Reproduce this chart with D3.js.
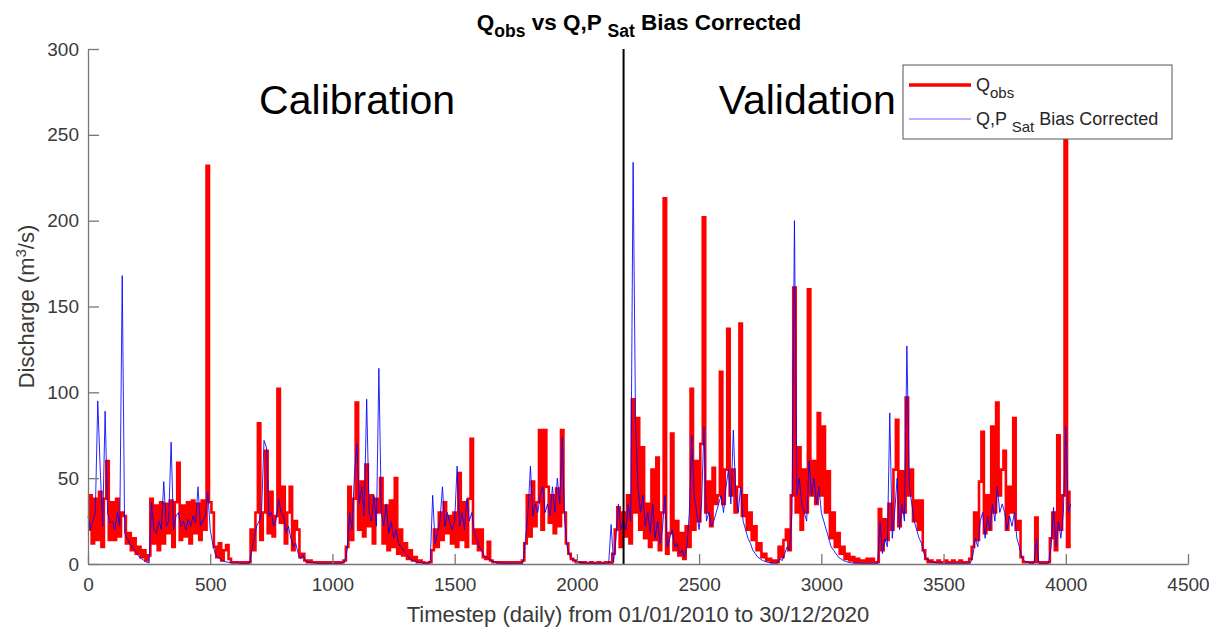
<!DOCTYPE html>
<html>
<head>
<meta charset="utf-8">
<script src="https://cdn.jsdelivr.net/npm/d3@7"></script>
<style>
  body { margin: 0; background: #fff; }
  text { font-family: "Liberation Sans", Arial, Helvetica, sans-serif; }
</style>
</head>
<body>
<div id="chart"></div>
<script>
// daily series, every 10th timestep
const step = 10;
const obsQ = [
  20, 40, 12, 38, 14, 42, 10, 38, 60, 14,
  36, 14, 38, 16, 30, 28, 12, 18, 8, 15,
  6, 10, 4, 8, 2, 5, 38, 12, 34, 8,
  36, 12, 35, 18, 37, 10, 36, 59, 14, 34,
  16, 36, 12, 37, 18, 35, 14, 37, 20, 232,
  36, 30, 10, 4, 12, 2, 8, 11, 3, 1,
  1, 1, 1, 0.5, 1, 0.5, 1, 20, 8, 30,
  82, 14, 30, 66, 18, 42, 16, 28, 102, 24,
  45, 12, 30, 45, 8, 25, 20, 4, 6, 2,
  1, 2, 1, 1, 0.5, 1, 0.5, 1, 0.5, 1,
  0.5, 1, 1, 0.5, 1, 2, 10, 45, 14, 38,
  94, 20, 48, 16, 58, 22, 40, 12, 38, 30,
  50, 12, 34, 8, 37, 10, 50, 6, 20, 5,
  12, 3, 8, 2, 4, 1, 2, 1, 0.5, 0.5,
  1, 8, 20, 10, 30, 14, 36, 18, 28, 12,
  30, 10, 53, 14, 36, 10, 38, 73, 12, 20,
  8, 20, 4, 3, 13, 2, 1, 1, 0.5, 1,
  0.5, 1, 0.5, 1, 0.5, 1, 1, 0.5, 2, 12,
  40, 16, 48, 22, 36, 78, 20, 78, 45, 24,
  40, 18, 44, 22, 78, 30, 12, 6, 3, 2,
  1, 1, 0.5, 1, 0.5, 0.5, 1, 0.5, 0.5, 1,
  0.5, 0.5, 1, 1, 0.5, 6, 20, 33, 10, 30,
  16, 40, 12, 96, 30, 85, 20, 68, 15, 35,
  10, 55, 14, 62, 8, 30, 213, 6, 18, 76,
  8, 25, 5, 18, 3, 22, 10, 102, 20, 60,
  25, 70, 202, 30, 48, 22, 56, 35, 40, 112,
  35, 55, 137, 40, 55, 30, 45, 140, 28, 40,
  20, 30, 14, 22, 8, 12, 4, 6, 2, 3,
  1, 2, 1, 10, 4, 14, 20, 8, 40, 161,
  30, 68, 20, 55, 30, 160, 40, 60, 35, 88,
  40, 80, 30, 54, 15, 30, 10, 18, 6, 10,
  3, 6, 2, 4, 1, 3, 1, 2, 1, 3,
  1, 3, 1, 1, 32, 8, 26, 14, 35, 20,
  55, 84, 22, 54, 30, 97, 40, 55, 25, 37,
  20, 37, 8, 3, 1, 2, 1, 1, 2, 1,
  1, 2, 1, 1, 2, 1, 1, 2, 1, 1,
  1, 3, 10, 30, 14, 48, 77, 18, 40, 20,
  80, 30, 94, 40, 55, 66, 20, 45, 30, 85,
  20, 25, 4, 1, 1, 1, 0.5, 1, 27, 1,
  0.5, 1, 0.5, 1, 15, 30, 8, 75, 20, 40,
  265, 10, 42
];
const simQ = [
  28, 20, 25, 30, 95, 55, 22, 89, 30, 24,
  25, 20, 30, 22, 168, 18, 15, 12, 10, 8,
  6, 4, 3, 2, 1, 0.5, 36, 20, 18, 25,
  20, 48, 22, 25, 71, 20, 28, 30, 22, 25,
  20, 26, 22, 28, 24, 45, 22, 25, 28, 42,
  20, 12, 6, 4, 3, 2, 1.5, 1, 1, 0.5,
  0.5, 0.5, 0.3, 0.3, 0.3, 0.3, 0.3, 8, 15, 22,
  25, 30, 72, 68, 28, 30, 22, 26, 38, 30,
  28, 18, 22, 15, 10, 12, 6, 3, 5, 2,
  1, 0.8, 0.6, 0.5, 0.4, 0.4, 0.3, 0.3, 0.3, 0.3,
  0.3, 0.3, 0.3, 0.3, 0.5, 1, 8, 30, 20, 52,
  70, 35, 45, 28, 96, 30, 25, 40, 22, 114,
  30, 22, 35, 18, 25, 15, 20, 12, 10, 8,
  6, 4, 3, 2, 1.5, 1, 0.8, 0.5, 0.4, 0.3,
  1, 40, 12, 18, 25, 45, 22, 30, 24, 20,
  25, 57, 22, 30, 20, 38, 25, 30, 18, 15,
  10, 8, 5, 4, 3, 2, 1.5, 1, 0.6, 0.5,
  0.4, 0.4, 0.3, 0.3, 0.3, 0.3, 0.3, 0.3, 1, 15,
  30, 57, 28, 35, 30, 40, 45, 30, 35, 28,
  45, 30, 50, 35, 74, 25, 10, 5, 3, 2,
  1.5, 1, 0.8, 0.6, 0.5, 0.4, 0.4, 0.3, 0.3, 0.3,
  0.3, 0.3, 0.3, 0.3, 23, 1, 15, 35, 20, 25,
  20, 35, 25, 234, 82, 45, 30, 40, 22, 30,
  18, 35, 15, 25, 12, 20, 40, 10, 15, 20,
  10, 12, 6, 8, 4, 10, 30, 75, 40, 30,
  20, 35, 80, 25, 30, 22, 25, 30, 35, 40,
  30, 45, 55, 35, 78, 40, 30, 45, 25, 20,
  15, 12, 8, 6, 4, 3, 2, 1.5, 1, 0.8,
  0.5, 0.5, 0.4, 3, 2, 6, 10, 8, 30, 200,
  40, 50, 35, 30, 25, 60, 40, 50, 35, 45,
  30, 25, 20, 15, 10, 8, 6, 4, 3, 2,
  1.5, 1, 0.8, 0.6, 0.5, 0.4, 0.4, 0.3, 0.3, 0.3,
  0.3, 0.3, 0.3, 0.3, 25, 6, 15, 10, 88, 15,
  30, 50, 20, 35, 25, 127, 45, 35, 25, 20,
  15, 12, 6, 3, 2, 1, 0.8, 0.6, 0.5, 0.4,
  0.4, 0.3, 0.3, 0.3, 0.3, 0.3, 0.3, 0.3, 0.3, 0.3,
  0.3, 0.5, 5, 15, 10, 25, 30, 15, 28, 20,
  35, 25, 45, 30, 35, 30, 20, 28, 22, 30,
  15, 10, 4, 2, 1, 0.8, 0.6, 0.5, 15, 0.5,
  0.4, 0.3, 0.3, 0.5, 10, 33, 10, 25, 15, 30,
  80, 30, 35
];
const xTicks = [0, 500, 1000, 1500, 2000, 2500, 3000, 3500, 4000, 4500];
const yTicks = [0, 50, 100, 150, 200, 250, 300];
const splitT = 2191;
const periods = [
  { label: "Calibration", t: 700, q: 262 },
  { label: "Validation", t: 2580, q: 262 }
];

const width = 1224;
const height = 635;
const margin = { top: 49, right: 36, bottom: 72, left: 88 };

const svg = d3.select("#chart")
  .append("svg")
  .attr("width", width)
  .attr("height", height);

const x = d3.scaleLinear()
  .domain([0, 4500])
  .range([margin.left, width - margin.right]);

const y = d3.scaleLinear()
  .domain([0, 300])
  .range([height - margin.bottom + 1, margin.top]);

const line = d3.line()
  .x((d, i) => x(i * step))
  .y(d => y(d));

svg.append("path")
  .datum(obsQ)
  .attr("fill", "none")
  .attr("stroke", "#ff0000")
  .attr("stroke-width", 2.6)
  .attr("d", line.curve(d3.curveStep)(obsQ));

svg.append("path")
  .datum(simQ)
  .attr("fill", "none")
  .attr("stroke", "#0000ff")
  .attr("stroke-opacity", 0.85)
  .attr("stroke-width", 1)
  .attr("d", line.curve(d3.curveLinear)(simQ));

svg.append("line")
  .attr("x1", x(splitT))
  .attr("x2", x(splitT))
  .attr("y1", y(0))
  .attr("y2", y(300))
  .attr("stroke", "#000")
  .attr("stroke-width", 2);

// axes, MATLAB style: ticks pointing inwards
const xAxis = svg.append("g")
  .attr("transform", `translate(0,${y(0)})`)
  .call(d3.axisBottom(x).tickValues(xTicks).tickFormat(d3.format("d"))
    .tickSizeInner(-10).tickSizeOuter(0).tickPadding(14));

const yAxis = svg.append("g")
  .attr("transform", `translate(${x(0)},0)`)
  .call(d3.axisLeft(y).tickValues(yTicks).tickFormat(d3.format("d"))
    .tickSizeInner(-11).tickSizeOuter(0).tickPadding(9));

[xAxis, yAxis].forEach(g => {
  g.select(".domain").attr("stroke", "#777").attr("stroke-width", 1.3);
  g.selectAll(".tick line").attr("stroke", "#777").attr("stroke-width", 1.3);
  g.selectAll(".tick text")
    .attr("fill", "#3a3a3a")
    .style("font-size", "19px")
    .style("font-family", "'Liberation Sans', Arial, sans-serif");
});

svg.selectAll(".period")
  .data(periods)
  .join("text")
  .attr("class", "period")
  .attr("x", d => x(d.t))
  .attr("y", d => y(d.q))
  .style("font-size", "41px")
  .attr("fill", "#000")
  .text(d => d.label);

// axis labels
svg.append("text")
  .attr("x", (x(0) + x(4500)) / 2)
  .attr("y", 622)
  .attr("text-anchor", "middle")
  .attr("fill", "#3a3a3a")
  .style("font-size", "22px")
  .text("Timestep (daily) from 01/01/2010 to 30/12/2020");

const yl = svg.append("text")
  .attr("transform", `translate(34,${(y(0) + y(300)) / 2}) rotate(-90)`)
  .attr("text-anchor", "middle")
  .attr("fill", "#3a3a3a")
  .style("font-size", "22px");
yl.append("tspan").text("Discharge (m");
yl.append("tspan").attr("dy", -8).style("font-size", "15px").text("3");
yl.append("tspan").attr("dy", 8).text("/s)");

// title
const title = svg.append("text")
  .attr("x", 639)
  .attr("y", 30)
  .attr("text-anchor", "middle")
  .attr("font-weight", "bold")
  .attr("fill", "#000")
  .style("font-size", "22.5px");
title.append("tspan").text("Q");
title.append("tspan").attr("dy", 7).style("font-size", "17.5px").text("obs");
title.append("tspan").attr("dy", -7).text(" vs Q,P ");
title.append("tspan").attr("dy", 7).style("font-size", "17.5px").text("Sat");
title.append("tspan").attr("dy", -7).text(" Bias Corrected");

// legend
const legend = svg.append("g").attr("transform", "translate(903,65)");
legend.append("rect")
  .attr("width", 269)
  .attr("height", 74)
  .attr("fill", "#fff")
  .attr("stroke", "#555")
  .attr("stroke-width", 1);

const items = [
  { color: "#ff0000", w: 3.5, op: 1, main: "Q", sub: "obs", rest: "" },
  { color: "#0000ff", w: 1, op: 0.6, main: "Q,P ", sub: "Sat", rest: " Bias Corrected" }
];
items.forEach((d, i) => {
  const yy = 20 + i * 34;
  legend.append("line")
    .attr("x1", 6).attr("x2", 68)
    .attr("y1", yy).attr("y2", yy)
    .attr("stroke", d.color)
    .attr("stroke-opacity", d.op)
    .attr("stroke-width", d.w);
  const t = legend.append("text")
    .attr("x", 73)
    .attr("y", yy + 6)
    .attr("fill", "#262626")
    .style("font-size", "18px");
  t.append("tspan").text(d.main);
  t.append("tspan").attr("dy", 7).style("font-size", "15px").text(d.sub);
  if (d.rest) t.append("tspan").attr("dy", -7).text(d.rest);
});
</script>
</body>
</html>
